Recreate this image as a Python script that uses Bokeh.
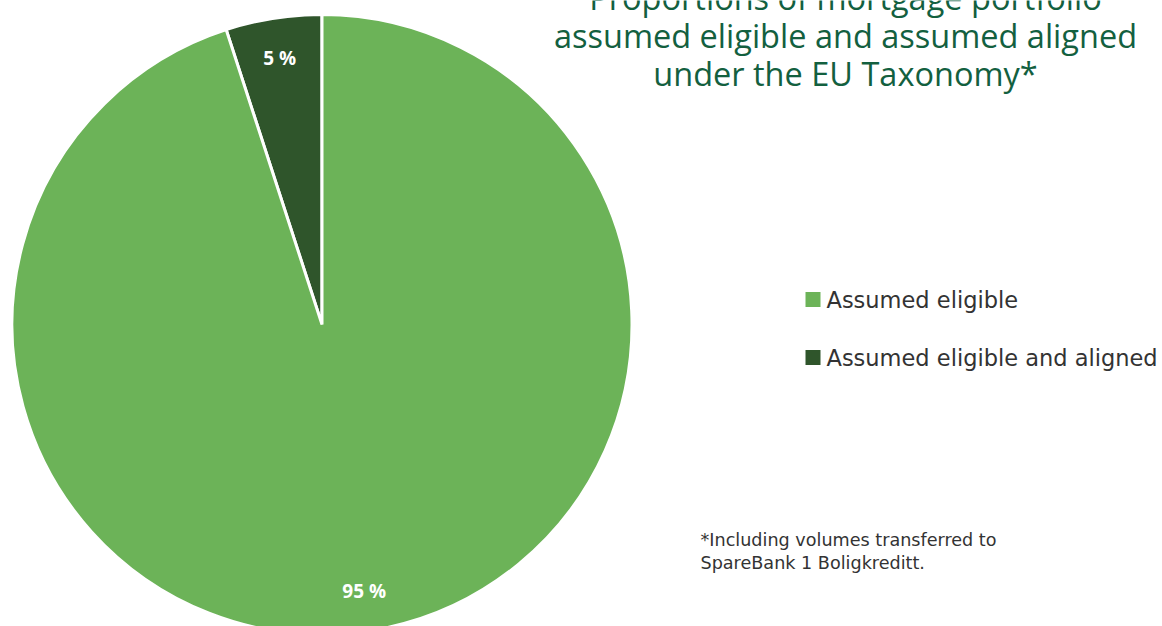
import numpy as np
from bokeh.plotting import figure
from bokeh.models import Range1d, ColumnDataSource
from bokeh.core.properties import value
from bokeh.embed import file_html
from bokeh.resources import INLINE

# ---- data ----
categories = ["Assumed eligible and aligned", "Assumed eligible"]
shares = [5, 95]
slice_colors = ["#2f552b", "#6cb358"]
label_texts = ["5 %", "95 %"]
title_lines = ["Proportions of mortgage portfolio",
               "assumed eligible and assumed aligned",
               "under the EU Taxonomy*"]
legend_order = ["Assumed eligible", "Assumed eligible and aligned"]
footnote_lines = ["*Including volumes transferred to", "SpareBank 1 Boligkreditt."]

W, H = 1162, 626
p = figure(width=W, height=H, x_range=Range1d(0, W), y_range=Range1d(0, H),
           output_backend="svg", toolbar_location=None, min_border=0)
p.axis.visible = False
p.grid.visible = False
p.outline_line_color = None
p.background_fill_color = "white"

def Y(py):
    return H - py

cx, cy, R = 321.5, Y(324), 310

vals = np.array(shares, dtype=float)
fr = vals / vals.sum()
ends = np.cumsum(fr) * 2 * np.pi
starts = ends - fr * 2 * np.pi
start_a = np.pi / 2 + starts
end_a = np.pi / 2 + ends
src = ColumnDataSource(dict(start=start_a, end=end_a, color=slice_colors, cat=categories))
p.wedge(x=cx, y=cy, radius=R, radius_units="screen", start_angle="start", end_angle="end",
        fill_color="color", line_color="white", line_width=3, source=src)

mid = (start_a + end_a) / 2
lr = 270
lsrc = ColumnDataSource(dict(x=cx + lr * np.cos(mid), y=cy + lr * np.sin(mid), t=label_texts))
p.text(x="x", y="y", text="t", source=lsrc, text_color="white", text_font=value("Open Sans"),
       text_font_style="bold", text_font_size="19px", text_align="center", text_baseline="middle")

# title
tx = 845
ty = [-3, 35, 73]
p.text(x=[tx] * 3, y=[Y(v) for v in ty], text=title_lines, text_color="#13603f",
       text_font=value("Open Sans"), text_font_size="32.5px", text_align="center",
       text_baseline="middle")

# legend
color_of = dict(zip(categories, slice_colors))
leg_y = [299, 357]
p.rect(x=[812.5] * 2, y=[Y(v) for v in leg_y], width=15, height=15,
       width_units="screen", height_units="screen",
       fill_color=[color_of[c] for c in legend_order], line_color=None)
p.text(x=[826] * 2, y=[Y(v) for v in leg_y], text=legend_order, text_color="#333333",
       text_font=value("DejaVu Sans"), text_font_size="22.5px", text_align="left",
       text_baseline="middle")

# footnote
p.text(x=[700] * 2, y=[Y(539), Y(562)], text=footnote_lines, text_color="#333333",
       text_font=value("DejaVu Sans"), text_font_size="17.6px", text_align="left",
       text_baseline="middle")

open("out.html", "w").write(file_html(p, INLINE))
